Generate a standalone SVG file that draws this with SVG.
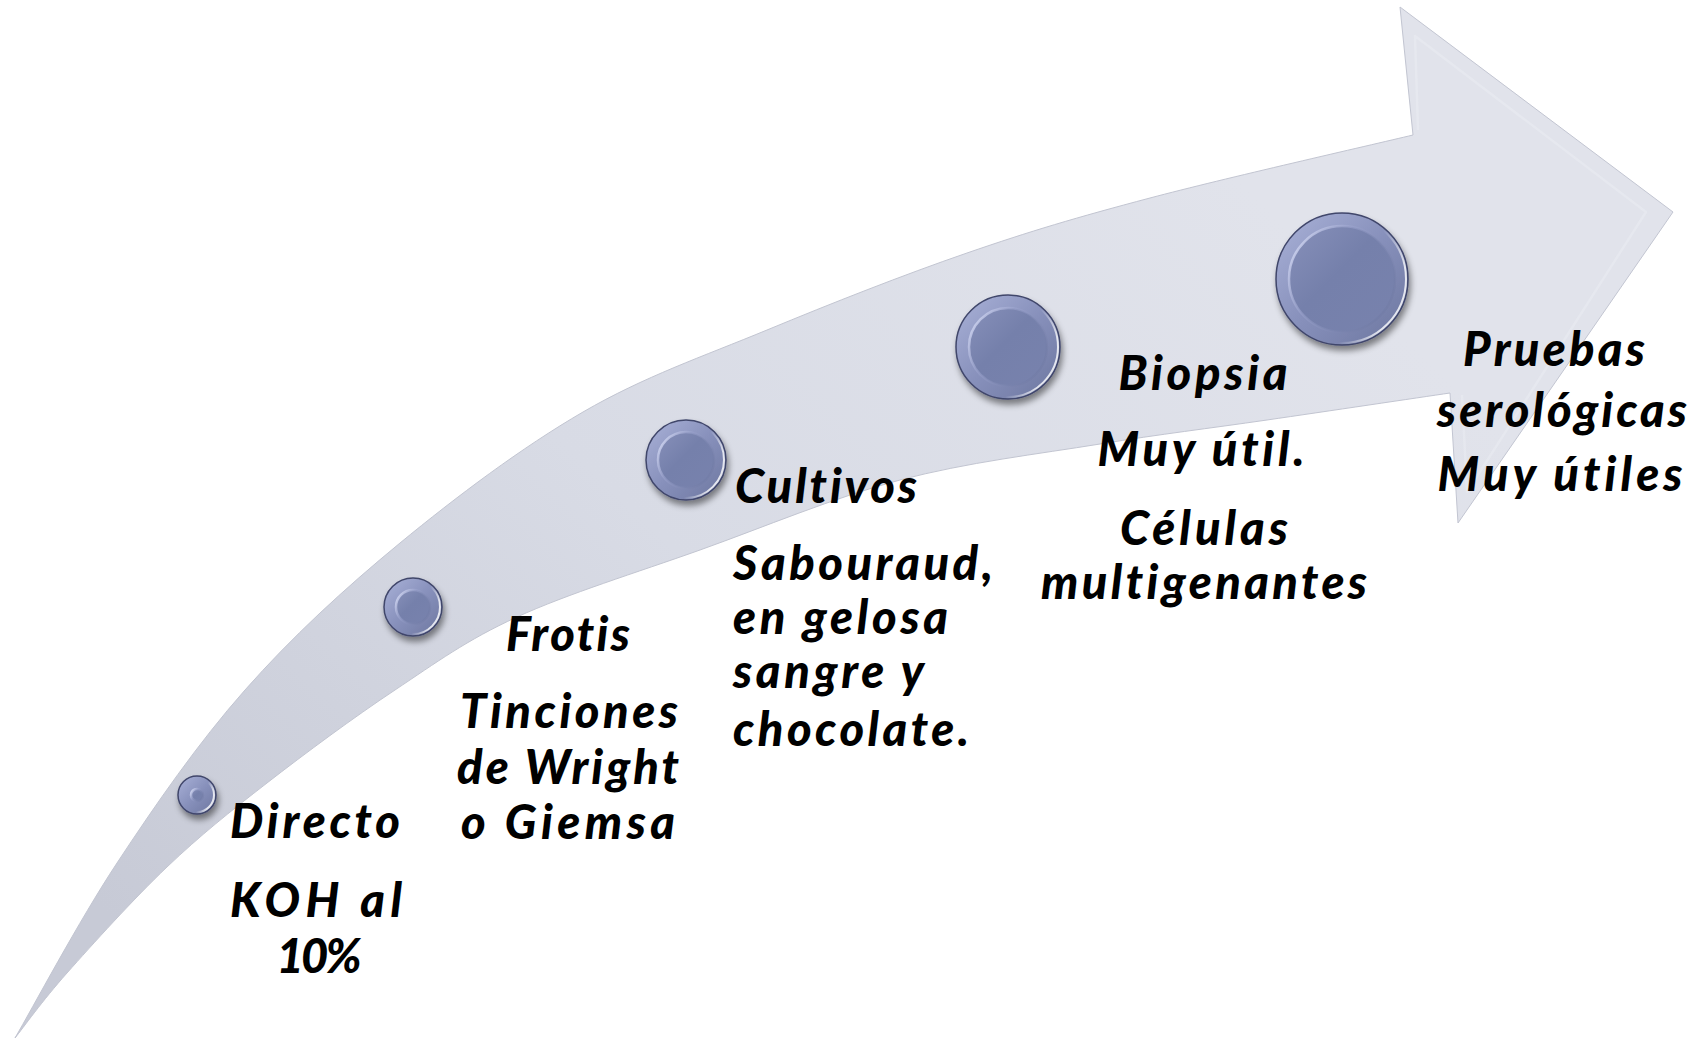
<svg xmlns="http://www.w3.org/2000/svg" width="1708" height="1040" viewBox="0 0 1708 1040">
<defs>
<style>
.t{font-family:Lato,"Open Sans","Liberation Sans",sans-serif;font-weight:900;font-style:italic;font-size:47px;fill:#000;font-variant-ligatures:none;font-feature-settings:"liga" 0,"clig" 0}
.m{text-anchor:middle}
.rim{fill:url(#rimGrad);stroke:#40466b;stroke-width:1.5;filter:url(#shadow)}
.inner{fill:url(#innerGrad);stroke:url(#innerHi);stroke-width:2.5}
.glint{fill:none;stroke:url(#glint);stroke-width:2}
</style>
<linearGradient id="arrowGrad" gradientUnits="userSpaceOnUse" x1="1100" y1="50" x2="200" y2="1000">
<stop offset="0" stop-color="#e1e3eb"/>
<stop offset="0.5" stop-color="#d8dbe5"/>
<stop offset="1" stop-color="#c7cad6"/>
</linearGradient>
<linearGradient id="rimGrad" x1="0" y1="0" x2="1" y2="1">
<stop offset="0" stop-color="#aab2d8"/>
<stop offset="0.5" stop-color="#8790bb"/>
<stop offset="1" stop-color="#6c769f"/>
</linearGradient>
<linearGradient id="innerGrad" x1="0" y1="0" x2="1" y2="1">
<stop offset="0" stop-color="#8790ba"/>
<stop offset="0.45" stop-color="#7580ab"/>
<stop offset="1" stop-color="#7882ad"/>
</linearGradient>
<linearGradient id="innerHi" x1="0" y1="0" x2="1" y2="0.6">
<stop offset="0" stop-color="#dfe4fb"/>
<stop offset="0.45" stop-color="#9aa2cc" stop-opacity="0.6"/>
<stop offset="1" stop-color="#6c76a0" stop-opacity="0.3"/>
</linearGradient>
<linearGradient id="glint" x1="0" y1="0" x2="1" y2="0.4">
<stop offset="0" stop-color="#ffffff" stop-opacity="0"/>
<stop offset="0.75" stop-color="#ffffff" stop-opacity="0"/>
<stop offset="1" stop-color="#ffffff" stop-opacity="0.8"/>
</linearGradient>
<filter id="shadow" x="-30%" y="-30%" width="160%" height="170%">
<feDropShadow dx="2" dy="5" stdDeviation="3" flood-color="#000" flood-opacity="0.45"/>
</filter>
</defs>

<g id="arrow">
<path fill="url(#arrowGrad)" stroke="#c2c5d1" stroke-width="1" d="M15,1038 C32,1009 78.7,921 117,863 C155.3,805 197.8,743.3 245,690 C292.2,636.7 343.7,589.3 400,543 C456.3,496.7 521.8,447.5 583,412 C644.2,376.5 703,356.5 767,330 C831,303.5 903.2,275 967,253 C1030.8,231 1075.7,217.7 1150,198 C1224.3,178.3 1369.2,145.5 1413,135 L1400,7 L1673,212 L1458,523 L1450,393 C1419.5,397.5 1325.3,411.5 1267,420 C1208.7,428.5 1161.2,434 1100,444 C1038.8,454 966.7,462.3 900,480 C833.3,497.7 763.8,527.2 700,550 C636.2,572.8 567.8,593.7 517,617 C466.2,640.3 436.7,662.3 395,690 C353.3,717.7 305,753.5 267,783 C229,812.5 200.3,835.3 167,867 C133.7,898.7 92.3,944.5 67,973 C41.7,1001.5 23.7,1027.2 15,1038 Z"/>
<polyline points="1418,130 1415,36 1646,212 1467,492 1462,395" fill="none" stroke="#eef0f5" stroke-width="2.5" stroke-opacity="0.4" stroke-linejoin="round"/>
</g>

<g id="connectors"></g>

<g id="node-directo">
<circle class="rim" cx="197" cy="795" r="19"/>
<circle class="inner" cx="197" cy="795" r="6" stroke-width="1.5"/>
<circle class="glint" cx="197" cy="795" r="17"/>
<text class="t m" x="315" y="838" textLength="170">Directo</text>
<text class="t m" x="316" y="917" textLength="172">KOH al</text>
<text class="t m" x="319" y="973" textLength="85">10%</text>
</g>

<g id="node-frotis">
<circle class="rim" cx="413" cy="607" r="29"/>
<circle class="inner" cx="413" cy="607" r="17"/>
<circle class="glint" cx="413" cy="607" r="27"/>
<text class="t m" x="568" y="651" textLength="124">Frotis</text>
<text class="t m" x="569" y="728" textLength="218">Tinciones</text>
<text class="t m" x="568" y="784" textLength="222">de Wright</text>
<text class="t m" x="568" y="839" textLength="214">o Giemsa</text>
</g>

<g id="node-cultivos">
<circle class="rim" cx="686" cy="460" r="40"/>
<circle class="inner" cx="686" cy="460" r="28"/>
<circle class="glint" cx="686" cy="460" r="38"/>
<text class="t" x="735" y="503" textLength="182">Cultivos</text>
<text class="t" x="733" y="580" textLength="260">Sabouraud,</text>
<text class="t" x="733" y="634" textLength="215">en gelosa</text>
<text class="t" x="733" y="688" textLength="191">sangre y</text>
<text class="t" x="733" y="746" textLength="236">chocolate.</text>
</g>

<g id="node-biopsia">
<circle class="rim" cx="1008" cy="347" r="52"/>
<circle class="inner" cx="1008" cy="347" r="39"/>
<circle class="glint" cx="1008" cy="347" r="50"/>
<text class="t m" x="1203" y="390" textLength="169">Biopsia</text>
<text class="t m" x="1201" y="466" textLength="207">Muy útil.</text>
<text class="t m" x="1204" y="545" textLength="168">Células</text>
<text class="t m" x="1204" y="599" textLength="326">multigenantes</text>
</g>

<g id="node-pruebas">
<circle class="rim" cx="1342" cy="279" r="66"/>
<circle class="inner" cx="1342" cy="279" r="53"/>
<circle class="glint" cx="1342" cy="279" r="64"/>
<text class="t m" x="1554" y="366" textLength="182">Pruebas</text>
<text class="t m" x="1562" y="427" textLength="250">serológicas</text>
<text class="t m" x="1560" y="491" textLength="245">Muy útiles</text>
</g>
</svg>
